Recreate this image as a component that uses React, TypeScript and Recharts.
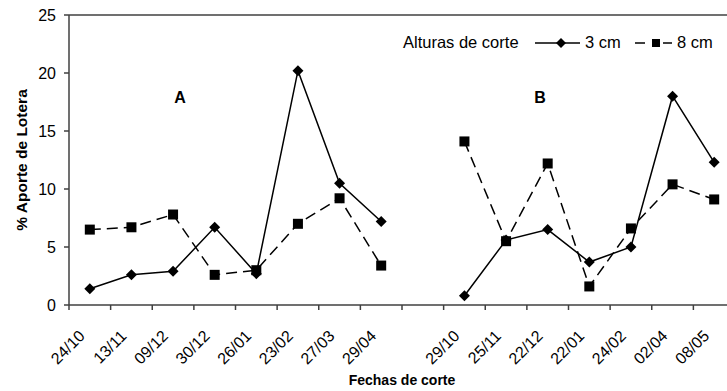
import { LineChart, Line, XAxis, YAxis, ReferenceLine, Label } from "recharts";

// fechas de corte: periodo A, hueco, periodo B
const fechas = [
  "24/10", "13/11", "09/12", "30/12", "26/01", "23/02", "27/03", "29/04",
  "",
  "29/10", "25/11", "22/12", "22/01", "24/02", "02/04", "08/05",
];
const corte3cm = [1.4, 2.6, 2.9, 6.7, 2.7, 20.2, 10.5, 7.2, null, 0.8, 5.6, 6.5, 3.7, 5.0, 18.0, 12.3];
const corte8cm = [6.5, 6.7, 7.8, 2.6, 3.0, 7.0, 9.2, 3.4, null, 14.1, 5.5, 12.2, 1.6, 6.6, 10.4, 9.1];
const yTicks = [0, 5, 10, 15, 20, 25];

const data = fechas.map((fecha, i) => ({ fecha, c3: corte3cm[i], c8: corte8cm[i] }));

const FONT = "'Liberation Sans', Arial, sans-serif";
const AXIS = "#404040";
const CHART_W = 735;
const CHART_H = 391;
const PLOT_LEFT = 69;
const PLOT_BOTTOM = 305;
const BAND = (CHART_W - PLOT_LEFT) / fechas.length;

// recharts hands dots an `r` of its own, so the marker size lives under another name
const Diamond = ({ cx, cy, size = 5.5 }: any) => {
  if (cx == null || cy == null) return null;
  return (
    <polygon
      points={`${cx},${cy - size} ${cx + size},${cy} ${cx},${cy + size} ${cx - size},${cy}`}
      fill="#000"
    />
  );
};

const Square = ({ cx, cy, side = 10 }: any) => {
  if (cx == null || cy == null) return null;
  return <rect x={cx - side / 2} y={cy - side / 2} width={side} height={side} fill="#000" />;
};

// tick marks sit between categories, labels slanted under each date
const FechaTick = (props: any) => {
  const { x, payload } = props;
  const tx = x - 4;
  const ty = PLOT_BOTTOM + 32;
  return (
    <g>
      <line
        x1={x - BAND / 2}
        y1={PLOT_BOTTOM}
        x2={x - BAND / 2}
        y2={PLOT_BOTTOM + 5}
        stroke={AXIS}
        strokeWidth={1.5}
      />
      {payload.value ? (
        <text
          x={tx}
          y={ty}
          transform={`rotate(-45 ${tx} ${ty})`}
          textAnchor="end"
          fontSize={16}
          fontFamily={FONT}
          fill="#000"
        >
          {payload.value}
        </text>
      ) : null}
    </g>
  );
};

export default function App() {
  return (
    <div
      style={{
        position: "absolute",
        left: 0,
        top: 0,
        width: 727,
        height: 391,
        overflow: "hidden",
        background: "#fff",
      }}
    >
      <LineChart
        width={CHART_W}
        height={CHART_H}
        data={data}
        margin={{ top: 15, right: 0, bottom: 6, left: 9 }}
      >
        <XAxis
          dataKey="fecha"
          scale="band"
          interval={0}
          height={80}
          tickSize={0}
          tickMargin={0}
          tick={<FechaTick />}
          axisLine={{ stroke: AXIS, strokeWidth: 1.5 }}
          tickLine={false}
        >
          <Label
            value="Fechas de corte"
            position="insideBottom"
            offset={0}
            style={{ fontSize: 14, fontWeight: "bold", fontFamily: FONT, fill: "#000" }}
          />
        </XAxis>
        <YAxis
          domain={[0, 25]}
          ticks={yTicks}
          width={60}
          tickSize={5}
          tickMargin={8}
          tick={{ fontSize: 16, fontFamily: FONT, fill: "#000" }}
          axisLine={{ stroke: AXIS, strokeWidth: 1.5 }}
          tickLine={{ stroke: AXIS, strokeWidth: 1.5 }}
        >
          <Label
            value="% Aporte de Lotera"
            angle={-90}
            position="insideLeft"
            offset={12}
            style={{ textAnchor: "middle", fontSize: 15.5, fontWeight: "bold", fontFamily: FONT, fill: "#000" }}
          />
        </YAxis>
        <ReferenceLine y={25} stroke={AXIS} strokeWidth={1.5} />
        <Line
          dataKey="c3"
          stroke="#000"
          strokeWidth={1.5}
          dot={<Diamond />}
          activeDot={false}
          connectNulls={false}
          isAnimationActive={false}
        />
        <Line
          dataKey="c8"
          stroke="#000"
          strokeWidth={1.5}
          strokeDasharray="11 6"
          dot={<Square />}
          activeDot={false}
          connectNulls={false}
          isAnimationActive={false}
        />
      </LineChart>
      <svg
        width={727}
        height={391}
        style={{ position: "absolute", left: 0, top: 0, pointerEvents: "none" }}
        fontFamily={FONT}
      >
        <text x={403} y={48} fontSize={16.5} fill="#000">Alturas de corte</text>
        <line x1={535} y1={43} x2={580} y2={43} stroke="#000" strokeWidth={1.5} />
        <Diamond cx={561} cy={43} size={5} />
        <text x={585} y={48} fontSize={16.5} fill="#000">3 cm</text>
        <line x1={635} y1={43} x2={645} y2={43} stroke="#000" strokeWidth={1.5} />
        <line x1={663} y1={43} x2={672} y2={43} stroke="#000" strokeWidth={1.5} />
        <Square cx={656} cy={43} side={8} />
        <text x={677} y={48} fontSize={16.5} fill="#000">8 cm</text>
        <text x={180} y={103} textAnchor="middle" fontSize={16} fontWeight="bold" fill="#000">A</text>
        <text x={540} y={103} textAnchor="middle" fontSize={16} fontWeight="bold" fill="#000">B</text>
      </svg>
    </div>
  );
}
